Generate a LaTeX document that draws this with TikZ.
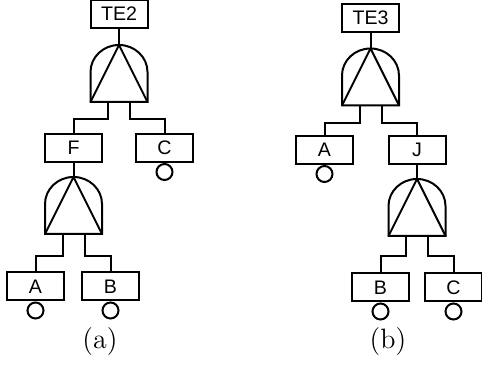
\documentclass[tikz,border=0pt]{standalone}
\usepackage{fontspec}
\newfontfamily\evfont{Liberation Sans}
\usepackage{tikz}
\usetikzlibrary{positioning}
% an and-gate drawn round an empty node
\newcommand{\andgate}[2]{%
  \node[gatenode] (#1) at (#2) {};
  \draw (#1.south west) -- ++(0,15pt)
    arc[start angle=180,end angle=0,x radius=14.25pt,y radius=13.5pt]
    -- (#1.south east) -- cycle;
  \draw (#1.south west) -- (#1.north) -- (#1.south east);
}

\begin{document}
\begin{tikzpicture}[
          x=0.5pt,y=0.5pt,line width=1pt,
          event/.style={draw,rectangle,minimum width=28.5pt,minimum height=14pt,
            inner sep=0pt,font=\evfont\fontsize{9.8}{11}\selectfont},
          gatenode/.style={rectangle,minimum width=28.5pt,minimum height=28.5pt,
            inner sep=0pt,outer sep=0pt},
          basic/.style={draw,circle,minimum size=8pt,inner sep=0pt},
          caption/.style={font=\fontsize{14}{16}\selectfont}
          ]
          \useasboundingbox (0,0) rectangle (482,368);
          % tree (a)
          \node[event] (te2) at (119,354) {TE2};
          \andgate{g1}{119,294.5}
          \node[event] (f) at (73.5,220) {F};
          \node[event] (c1) at (164.5,220) {C};
          \andgate{g2}{73.5,162.5}
          \node[event] (a1) at (35.5,81.5) {A};
          \node[event] (b1) at (110.5,81.5) {B};
          \node[caption] (capa) at (100,26) {(a)};
          % tree (b)
          \node[event] (te3) at (370.5,350) {TE3};
          \andgate{g3}{370.5,291}
          \node[event] (a2) at (324.5,218) {A};
          \node[event] (j) at (417,218) {J};
          \andgate{g4}{417,160.5}
          \node[event] (b2) at (380.5,80.5) {B};
          \node[event] (c2) at (453.5,80.5) {C};
          \node[caption] (capb) at (388,26) {(b)};
          % the basic events
          \foreach \n in {c1,a1,b1,a2,b2,c2}
            \node[basic,below=0pt of \n] (\n-o) {};
          % the edges
          \draw (te2.south) -- (g1.north);
          \draw ([xshift=-5.5pt]g1.south) -- ++(0,-8.5pt) -| (f.north);
          \draw ([xshift=5.5pt]g1.south) -- ++(0,-8.5pt) -| (c1.north);
          \draw (f.south) -- (g2.north);
          \draw ([xshift=-5.5pt]g2.south) -- ++(0,-11pt) -| (a1.north);
          \draw ([xshift=5.5pt]g2.south) -- ++(0,-11pt) -| (b1.north);
          \draw (te3.south) -- (g3.north);
          \draw ([xshift=-5.5pt]g3.south) -- ++(0,-9pt) -| (a2.north);
          \draw ([xshift=5.5pt]g3.south) -- ++(0,-9pt) -| (j.north);
          \draw (j.south) -- (g4.north);
          \draw ([xshift=-5.5pt]g4.south) -- ++(0,-10pt) -| (b2.north);
          \draw ([xshift=5.5pt]g4.south) -- ++(0,-10pt) -| (c2.north);
\end{tikzpicture}
\end{document}
